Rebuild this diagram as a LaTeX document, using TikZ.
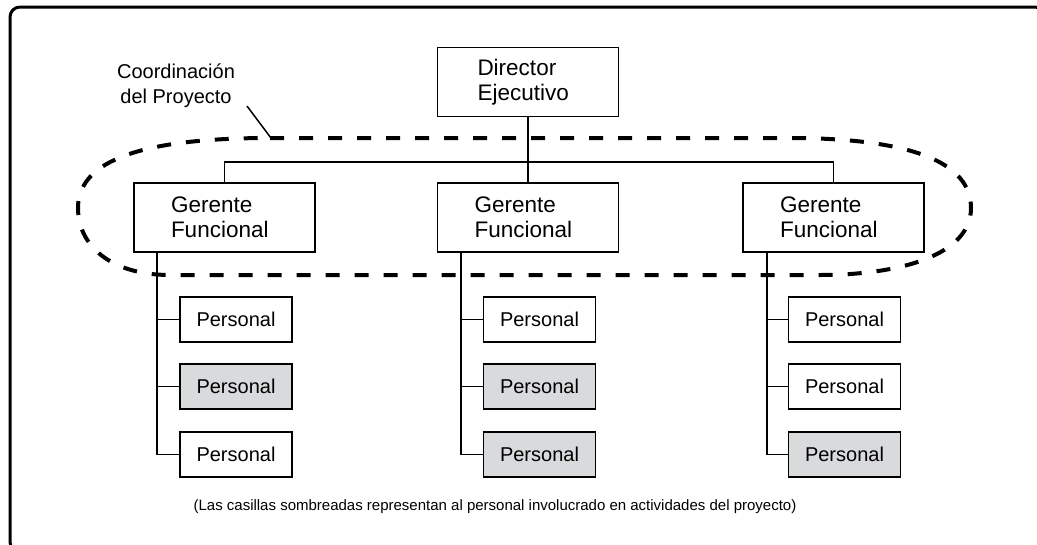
\documentclass[tikz,border=0pt]{standalone}
\usepackage{fontspec}
\setmainfont{Liberation Sans}
\usetikzlibrary{positioning}
\definecolor{shade}{RGB}{216,218,220}

\begin{document}
\begin{tikzpicture}[x=1pt,y=-1pt,
    head/.style={rectangle, draw, line width=1.5pt, fill=white, minimum width=181pt, minimum height=69pt, inner xsep=37pt, inner ysep=0pt, text width=107pt, align=left, font=\fontsize{22.5}{25}\selectfont},
    staff/.style={rectangle, draw, line width=1.5pt, fill=white, minimum width=112pt, minimum height=45pt, inner sep=0pt, font=\fontsize{20}{24}\selectfont}]
    \tikzset{link/.style={line width=1.5pt}}
    \tikzset{loop/.style={line width=4pt, dash pattern=on 14pt off 15pt}}
    \useasboundingbox (0,0) rectangle (1037,544);
    \clip (0,0) rectangle (1037,544);
    % marco
    \draw[line width=3pt, rounded corners=10pt] (10,7) rectangle (1045,552);

    \node[head, inner xsep=40pt, text width=101pt] (dir) at (528,82) {Director\\Ejecutivo};
    \node[head] (g1) at (224.5,217.5) {Gerente\\Funcional};
    \node[head] (g2) at (528,217.5) {Gerente\\Funcional};
    \node[head] (g3) at (833.5,217.5) {Gerente\\Funcional};
    \coordinate (bus) at (528,162);

    \draw[link] (dir.south) -- (g2.north);
    \draw[link] (g1.north) |- (bus) -| (g3.north);

    % personal
    \foreach \c/\x/\s in {1/236/157, 2/539.5/461, 3/844.5/767} {
      \node[staff] (p\c1) at (\x,319.5) {Personal};
      \node[staff] (p\c2) at (\x,386.5) {Personal};
      \node[staff] (p\c3) at (\x,454.5) {Personal};
      \coordinate (s\c) at (\s,252);
      \draw[link] (s\c) |- (p\c3.west);
      \draw[link] (s\c |- p\c1.west) -- (p\c1.west);
      \draw[link] (s\c |- p\c2.west) -- (p\c2.west);
    }
    % casillas sombreadas
    \foreach \n in {12,22,23,33} {
      \node[staff, fill=shade] at (p\n) {Personal};
    }

    % coordinacion
    \draw[loop] (270,138) -- (800,138) .. controls (930,140) and (971,170) .. (971,208)
      .. controls (971,255) and (900,275) .. (820,275) -- (170,275)
      .. controls (110,275) and (78,245) .. (78,208)
      .. controls (78,165) and (130,138) .. (270,138);
    \node[align=center, font=\fontsize{20}{25}\selectfont] (coord) at (176,86) {Coordinación\\del Proyecto};
    \coordinate (lead) at (247,106);
    \coordinate (tip) at (271,138);
    \draw[line width=1.5pt] (lead) -- (tip);

    \node[font=\fontsize{15}{17}\selectfont] (note) at (495,507) {(Las casillas sombreadas representan al personal involucrado en actividades del proyecto)};
\end{tikzpicture}
\end{document}
